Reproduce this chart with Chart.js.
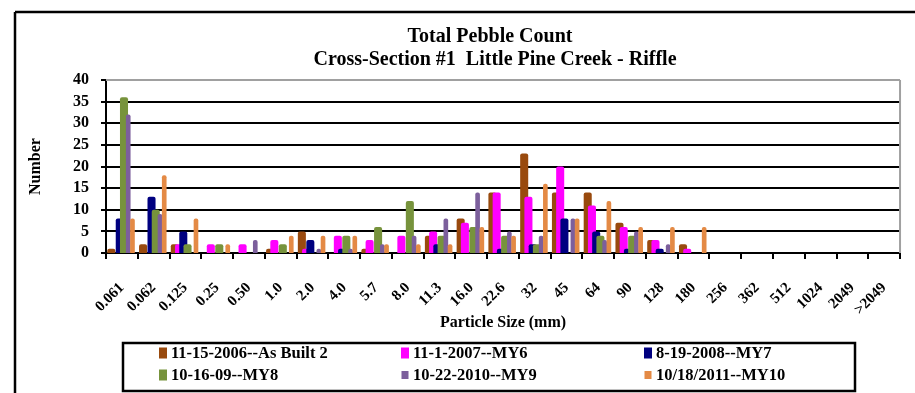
<!DOCTYPE html>
<html>
<head>
<meta charset="utf-8">
<title>Total Pebble Count</title>
<script src="https://cdn.jsdelivr.net/npm/chart.js@4.4.1/dist/chart.umd.min.js"></script>
<style>
  html, body { margin: 0; padding: 0; background: #fff; }
</style>
</head>
<body>
<canvas id="pebbleChart" width="915" height="393"></canvas>
<script>
// particle size classes (mm)
const sizes = ['0.061', '0.062', '0.125', '0.25', '0.50', '1.0', '2.0', '4.0', '5.7', '8.0', '11.3',
  '16.0', '22.6', '32', '45', '64', '90', '128', '180', '256', '362', '512', '1024', '2049', '>2049'];

// pebble counts per survey
const asBuilt2006 = [1, 2, 2, 0, 0, 1, 5, 0, 1, 0, 4, 8, 14, 23, 14, 14, 7, 3, 2, 0, 0, 0, 0, 0, 0];
const my6_2007    = [0, 0, 2, 2, 2, 3, 1, 4, 3, 4, 5, 7, 14, 13, 20, 11, 6, 3, 1, 0, 0, 0, 0, 0, 0];
const my7_2008    = [8, 13, 5, 0, 0, 0, 3, 1, 0, 0, 2, 0, 1, 2, 8, 5, 1, 1, 0, 0, 0, 0, 0, 0, 0];
const my8_2009    = [36, 10, 2, 2, 0, 2, 0, 4, 6, 12, 4, 6, 4, 2, 0, 4, 4, 0, 0, 0, 0, 0, 0, 0, 0];
const my9_2010    = [32, 9, 0, 0, 3, 0, 1, 1, 2, 4, 8, 14, 5, 4, 8, 3, 5, 2, 0, 0, 0, 0, 0, 0, 0];
const my10_2011   = [8, 18, 8, 2, 0, 4, 4, 4, 2, 2, 2, 6, 4, 16, 8, 12, 6, 6, 6, 0, 0, 0, 0, 0, 0];

// y axis gridline values
const countTicks = [0, 5, 10, 15, 20, 25, 30, 35, 40];

const seriesNames = ['11-15-2006--As Built 2', '11-1-2007--MY6', '8-19-2008--MY7',
  '10-16-09--MY8', '10-22-2010--MY9', '10/18/2011--MY10'];
const seriesValues = [asBuilt2006, my6_2007, my7_2008, my8_2009, my9_2010, my10_2011];
const seriesColors = ['#994a0e', '#ff00ff', '#000080', '#77933c', '#7c5f9c', '#e48a45'];

const FONT = "'Liberation Serif', 'Times New Roman', serif";

// the first four surveys are drawn as fat columns, the last two thin
const datasets = seriesValues.map((vals, i) => ({
  label: seriesNames[i],
  data: vals,
  backgroundColor: seriesColors[i],
  borderWidth: 0,
  borderRadius: { topLeft: 2, topRight: 2 },
  borderSkipped: 'bottom',
  barPercentage: i < 4 ? 1.9 : 1.1,
  categoryPercentage: 0.8
}));

function line(ctx, x1, y1, x2, y2) {
  ctx.beginPath();
  ctx.moveTo(x1, y1);
  ctx.lineTo(x2, y2);
  ctx.stroke();
}

const decorations = {
  id: 'decorations',
  beforeDatasetsDraw(chart) {
    const ctx = chart.ctx;
    const area = chart.chartArea;
    const xs = chart.scales.x;
    const ys = chart.scales.y;
    ctx.save();
    ctx.lineWidth = 2;

    // horizontal gridlines plus their tick marks, top one grey
    countTicks.forEach(v => {
      const py = Math.round(ys.getPixelForValue(v));
      ctx.strokeStyle = v === ys.max ? '#a0a0a0' : '#000000';
      line(ctx, area.left, py, area.right, py);
      ctx.strokeStyle = '#000000';
      line(ctx, area.left - 5, py, area.left, py);
    });

    // category boundary tick marks under the x axis
    for (let i = 0; i <= sizes.length; i++) {
      const px = Math.round(xs.getPixelForValue(i - 0.5));
      line(ctx, px, area.bottom, px, area.bottom + 6);
    }

    // plot area right edge
    ctx.strokeStyle = '#a0a0a0';
    line(ctx, area.right, area.top, area.right, area.bottom);
    ctx.restore();

    // draw series in index order so later ones sit on top of earlier ones
    chart.data.datasets.forEach((d, i) => chart.getDatasetMeta(i).controller.draw());
    return false;
  },
  afterDraw(chart) {
    const ctx = chart.ctx;
    ctx.save();

    // outer chart frame
    ctx.strokeStyle = '#000';
    ctx.lineWidth = 2.5;
    line(ctx, 15, chart.height, 15, 12);
    line(ctx, 15, 12, chart.width, 12);

    // titles
    ctx.fillStyle = '#000';
    ctx.textAlign = 'center';
    ctx.textBaseline = 'middle';
    ctx.font = 'bold 20px ' + FONT;
    ctx.fillText('Total Pebble Count', 490, 37);
    ctx.fillText('Cross-Section #1  Little Pine Creek - Riffle', 495, 60);

    // legend box
    ctx.lineWidth = 2.5;
    ctx.strokeRect(123, 343, 732, 48);
    const cols = [163, 405, 648];
    const rows = [353, 375];
    ctx.textAlign = 'left';
    ctx.font = 'bold 16.5px ' + FONT;
    seriesNames.forEach((name, i) => {
      const x = cols[i % 3];
      const y = rows[Math.floor(i / 3)];
      ctx.fillStyle = seriesColors[i];
      if (i < 4) {
        ctx.fillRect(x - 4, y - 5.5, 8, 11);
      } else {
        ctx.fillRect(x - 3.5, y - 4, 7, 8);
      }
      ctx.fillStyle = '#000';
      ctx.fillText(name, x + 8, y + 1);
    });
    ctx.restore();
  }
};

new Chart(document.getElementById('pebbleChart'), {
  type: 'bar',
  data: { labels: sizes, datasets: datasets },
  options: {
    responsive: false,
    devicePixelRatio: 1,
    animation: false,
    layout: { padding: { left: 0, right: 6, top: 80, bottom: 60 } },
    plugins: {
      legend: { display: false },
      title: { display: false },
      tooltip: { enabled: false }
    },
    scales: {
      x: {
        grid: { display: false },
        border: { display: true, color: '#000', width: 2 },
        ticks: {
          autoSkip: false,
          minRotation: 45,
          maxRotation: 45,
          padding: 18,
          color: '#000',
          font: { family: FONT, size: 15, weight: 'bold' }
        },
        title: {
          display: true,
          text: 'Particle Size (mm)',
          color: '#000',
          font: { family: FONT, size: 16, weight: 'bold' },
          padding: { top: 0, bottom: 1 }
        },
        afterFit(scale) { scale.height = 80; }
      },
      y: {
        min: 0,
        max: 40,
        ticks: {
          stepSize: 5,
          autoSkip: false,
          padding: 9,
          color: '#000',
          font: { family: FONT, size: 16, weight: 'bold' }
        },
        grid: { display: false },
        border: { display: true, color: '#000', width: 2 },
        title: {
          display: true,
          text: 'Number',
          color: '#000',
          font: { family: FONT, size: 16, weight: 'bold' },
          padding: { top: 26, bottom: 0 }
        },
        afterFit(scale) { scale.width = 106; }
      }
    }
  },
  plugins: [decorations]
});
</script>
</body>
</html>
